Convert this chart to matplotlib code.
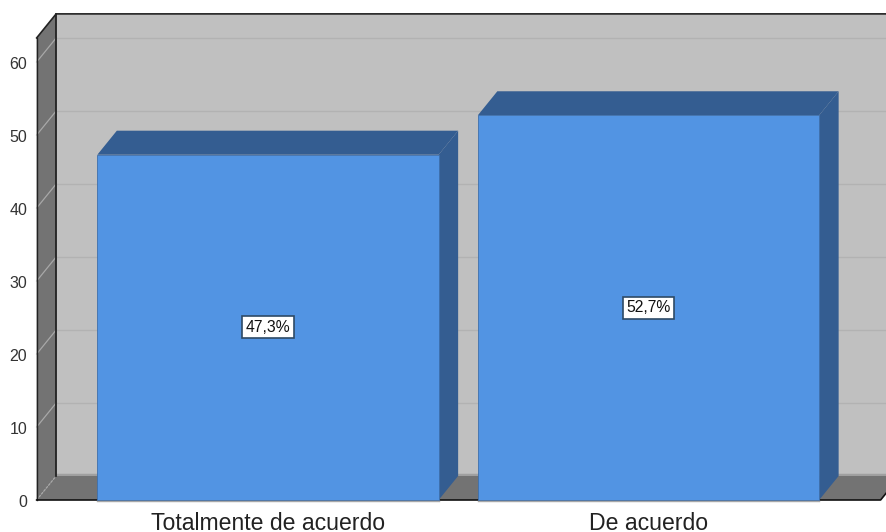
import matplotlib
matplotlib.use("Agg")
import matplotlib.pyplot as plt
from matplotlib.patches import Polygon

plt.rcParams["font.family"] = ["Liberation Sans", "DejaVu Sans"]

# data
categories = ["Totalmente de acuerdo", "De acuerdo"]
percentages = [47.3, 52.7]
value_labels = ["47,3%", "52,7%"]
y_ticks = [0, 10, 20, 30, 40, 50, 60]

# colours
COLOR_WALL = "#C0C0C0"
COLOR_SIDE = "#737373"
COLOR_GRID = "#B2B2B2"
COLOR_BAR = "#5294E3"
COLOR_BAR_DARK = "#345D91"

# layout, in axis units (1 x unit = one category, 1 y unit = one percent)
BAR_WIDTH = 0.897
DEPTH_X = 0.0512
DEPTH_Y = 3.29
PX_X = 380.5
PX_Y = 7.3
WALL_LEFT = -0.608
FLOOR_RIGHT = 1.61
WALL_TOP = 63.3

fig = plt.figure(figsize=(8.86, 5.32), dpi=100)
ax = fig.add_axes([0, 0, 1, 1])
ax.set_xlim(-268 / PX_X, (886 - 268) / PX_X)
ax.set_ylim(-32 / PX_Y, 500 / PX_Y)
ax.axis("off")


def poly(points, face, edge="none", lw=0.0, z=1):
    ax.add_patch(Polygon(points, closed=True, facecolor=face, edgecolor=edge,
                         linewidth=lw, zorder=z))


back_left = WALL_LEFT + DEPTH_X

# back wall
poly([(back_left, DEPTH_Y), (2, DEPTH_Y), (2, WALL_TOP + DEPTH_Y),
      (back_left, WALL_TOP + DEPTH_Y)], COLOR_WALL, z=1)
ax.plot([back_left, 2], [DEPTH_Y + 0.1, DEPTH_Y + 0.1], color="#A0A0A0", lw=2.5, zorder=1.5)

# left wall
poly([(WALL_LEFT, 0), (back_left, DEPTH_Y), (back_left, WALL_TOP + DEPTH_Y),
      (WALL_LEFT, WALL_TOP)], COLOR_SIDE, z=2)

# floor
poly([(WALL_LEFT, 0), (FLOOR_RIGHT, 0), (FLOOR_RIGHT + DEPTH_X, DEPTH_Y),
      (back_left, DEPTH_Y)], COLOR_SIDE, z=2)

# gridlines go over the left wall and along the back wall
for t in y_ticks:
    ax.plot([WALL_LEFT, back_left], [t, t + DEPTH_Y], color="#A8A8A8", lw=0.9,
            ls=(0, (2, 1)) if t == 0 else "-", zorder=2.5)
    if t > 0:
        ax.plot([back_left, 2], [t + DEPTH_Y, t + DEPTH_Y], color=COLOR_GRID, lw=1.0, zorder=1.5)
    ax.text(WALL_LEFT - 9.5 / PX_X, t - 0.4, str(t), ha="right", va="center",
            fontsize=11.5, color="#333333")

# frame lines
ax.plot([WALL_LEFT, WALL_LEFT], [0, WALL_TOP], color="#222222", lw=1.0, zorder=3)
ax.plot([WALL_LEFT, back_left, 2], [WALL_TOP, WALL_TOP + DEPTH_Y, WALL_TOP + DEPTH_Y],
        color="#222222", lw=1.2, zorder=3)
ax.plot([back_left, back_left], [DEPTH_Y, WALL_TOP + DEPTH_Y], color="#222222", lw=1.3, zorder=3)
ax.plot([WALL_LEFT, FLOOR_RIGHT, FLOOR_RIGHT + DEPTH_X], [0, 0, DEPTH_Y],
        color="#111111", lw=1.2, zorder=3)

# bars
for i, (cat, val, lab) in enumerate(zip(categories, percentages, value_labels)):
    x0 = i - BAR_WIDTH / 2
    x1 = i + BAR_WIDTH / 2
    poly([(x0, val), (x1, val), (x1 + DEPTH_X, val + DEPTH_Y), (x0 + DEPTH_X, val + DEPTH_Y)],
         COLOR_BAR_DARK, z=4)
    poly([(x1, 0), (x1 + DEPTH_X, DEPTH_Y), (x1 + DEPTH_X, val + DEPTH_Y), (x1, val)],
         COLOR_BAR_DARK, z=4)
    ax.bar(i, val, width=BAR_WIDTH, color=COLOR_BAR, edgecolor="#3E6FAB", linewidth=0.6, zorder=5)
    ax.plot([x0, x1], [-0.15, -0.15], color="#A8A8A8", lw=1.0, zorder=5)
    ax.text(i, val / 2, lab, ha="center", va="center", fontsize=11.3, color="#111111", zorder=6,
            bbox=dict(boxstyle="square,pad=0.22", facecolor="white", edgecolor="#2E4A66", linewidth=1.2))
    ax.text(i, -24 / PX_Y, cat, ha="center", va="center", fontsize=16.6, color="#222222")

fig.savefig("out.png", dpi=100)
